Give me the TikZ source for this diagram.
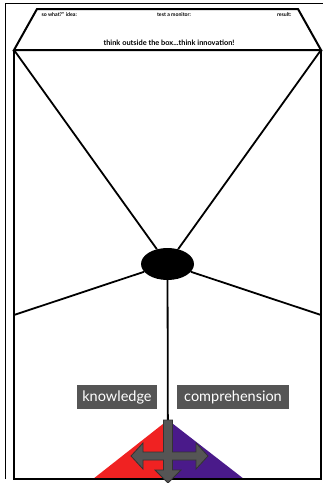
\documentclass[tikz,border=0pt]{standalone}
\usepackage{fontspec}
\setmainfont{Lato}
\usetikzlibrary{shapes.geometric}
\definecolor{boxgray}{HTML}{555555}
\definecolor{arrgray}{HTML}{555555}
\definecolor{kred}{HTML}{F02222}
\definecolor{cpurple}{HTML}{4A1A8A}

\begin{document}
\begin{tikzpicture}[x=1pt, y=-1pt,
  frame/.style={line width=2pt, line join=miter},
  spoke/.style={line width=1.8pt},
  tag/.style={fill=boxgray, text=white, font=\fontsize{14.5}{16}\selectfont, inner sep=2pt, minimum height=24pt},
  toptext/.style={font=\bfseries\fontsize{5.2}{6}\selectfont, anchor=west}]
\useasboundingbox (0,0) rectangle (323,483);
% thin outer frame
\draw[line width=0.8pt] (5,479) -- (5,3) -- (323,3);
% box with the lid on top
\coordinate (tl) at (14,50);
\coordinate (tr) at (321,50);
\coordinate (ml) at (14,315);
\coordinate (mr) at (321,315);
\coordinate (bm) at (168,479);
\fill[kred] (93,479) -- (168,420) -- (168,479) -- cycle;
\fill[cpurple] (168,479) -- (168,420) -- (244,479) -- cycle;
\draw[frame] (tl) -- (37,9) -- (298,9) -- (tr) -- cycle;
\draw[frame] (tl) -- (14,479) -- (321,479) -- (tr);
\node[ellipse, fill=black, minimum width=53pt, minimum height=32pt, inner sep=0pt] (hub) at (167.5,264) {};
\foreach \c in {tl,tr,ml,mr,bm}
  \draw[spoke] (\c) -- (hub);
\node[toptext] (what) at (38,15) {so what?'' idea:};
\node[toptext, anchor=center] (monitor) at (174,15) {test a monitor:};
\node[toptext, anchor=east] (result) at (295,15) {result:};
\node[font=\bfseries\fontsize{7.4}{9}\selectfont] (motto) at (169,43) {think outside the box...think innovation!};
\node[tag, minimum width=80pt] (know) at (117,397) {knowledge};
\node[tag, minimum width=112pt] (comp) at (233,397) {comprehension};
% cross arrow
\draw[fill=arrgray, draw=black!80, line width=0.8pt, line join=miter]
  (163.5,420) -- (172.5,420) -- (172.5,452) -- (196,452) -- (196,443) -- (208,456)
  -- (196,469) -- (196,460) -- (172.5,460) -- (172.5,470) -- (181,470) -- (168,483)
  -- (155,470) -- (163.5,470) -- (163.5,460) -- (143,460) -- (143,469) -- (131,456)
  -- (143,443) -- (143,452) -- (163.5,452) -- cycle;
\end{tikzpicture}
\end{document}
